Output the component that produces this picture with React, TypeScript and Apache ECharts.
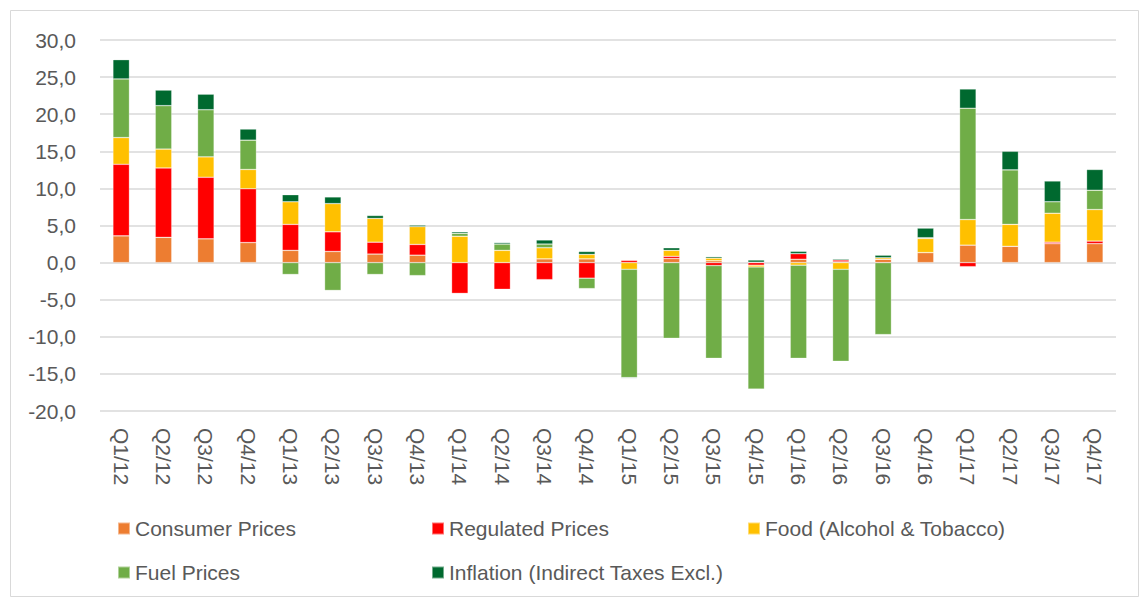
import React, { useEffect, useRef } from "react";
import * as echarts from "echarts";

const categories = [
  "Q1/12", "Q2/12", "Q3/12", "Q4/12",
  "Q1/13", "Q2/13", "Q3/13", "Q4/13",
  "Q1/14", "Q2/14", "Q3/14", "Q4/14",
  "Q1/15", "Q2/15", "Q3/15", "Q4/15",
  "Q1/16", "Q2/16", "Q3/16", "Q4/16",
  "Q1/17", "Q2/17", "Q3/17", "Q4/17",
];

const consumerPrices = [3.6, 3.4, 3.2, 2.7, 1.65, 1.5, 1.15, 1.0, 0, 0, 0.5, 0.5, 0, 0.55, 0.25, 0.05, 0.45, 0.1, 0.45, 1.35, 2.35, 2.2, 2.55, 2.55];
const regulatedPrices = [9.65, 9.35, 8.3, 7.25, 3.5, 2.65, 1.6, 1.45, -4.15, -3.6, -2.3, -2.1, 0.3, 0.3, -0.4, -0.35, 0.75, 0.25, 0, 0, -0.55, 0, 0.2, 0.35];
const foodPrices = [3.6, 2.55, 2.75, 2.6, 3.05, 3.8, 3.2, 2.4, 3.55, 1.65, 1.5, 0.6, -0.9, 0.8, 0.35, -0.25, -0.35, -0.9, 0.2, 1.9, 3.45, 2.95, 3.9, 4.25];
const fuelPrices = [7.9, 5.85, 6.35, 3.95, -1.6, -3.75, -1.6, -1.75, 0.4, 0.85, 0.5, -1.4, -14.6, -10.2, -12.5, -16.45, -12.55, -12.4, -9.7, 0.1, 15.0, 7.35, 1.55, 2.6];
const inflation = [2.6, 2.1, 2.1, 1.5, 0.95, 0.9, 0.4, 0.2, 0.2, 0.2, 0.55, 0.4, -0.1, 0.35, 0.2, 0.3, 0.32, 0.15, 0.35, 1.3, 2.6, 2.5, 2.8, 2.8];

const seriesNames = [
  "Consumer Prices",
  "Regulated Prices",
  "Food (Alcohol & Tobacco)",
  "Fuel Prices",
  "Inflation (Indirect Taxes Excl.)",
];
const seriesData = [consumerPrices, regulatedPrices, foodPrices, fuelPrices, inflation];
const colors = ["#ED7D31", "#FF0000", "#FFC000", "#70AD47", "#00692F"];

const yMin = -20;
const yMax = 30;
const yInterval = 5;

const FONT = "'Liberation Sans', Arial, sans-serif";
const TEXT_COLOR = "#595959";

export default function App() {
  const ref = useRef<HTMLDivElement>(null);

  useEffect(() => {
    if (!ref.current) return;
    const chart = echarts.init(ref.current, undefined, { renderer: "svg" });

    const legendPos = [
      { left: 112, top: 513 },
      { left: 426, top: 513 },
      { left: 742, top: 513 },
      { left: 112, top: 557 },
      { left: 426, top: 557 },
    ];

    const option: any = {
      animation: false,
      backgroundColor: "#ffffff",
      textStyle: { fontFamily: FONT },
      grid: { left: 100, right: 28, top: 40, bottom: 192, containLabel: false },
      legend: seriesNames.map((name, i) => ({
        data: [name],
        left: legendPos[i].left,
        top: legendPos[i].top,
        icon: "rect",
        itemWidth: 12,
        itemHeight: 12,
        selectedMode: false,
        textStyle: { fontSize: 21, color: TEXT_COLOR, fontFamily: FONT },
      })),
      xAxis: {
        type: "category",
        data: categories,
        axisLine: { show: false },
        axisTick: { show: false },
        axisLabel: {
          rotate: -90,
          fontSize: 21,
          color: TEXT_COLOR,
          fontFamily: FONT,
          margin: 17,
          interval: 0,
        },
      },
      yAxis: {
        type: "value",
        min: yMin,
        max: yMax,
        interval: yInterval,
        axisLine: { show: false },
        axisTick: { show: false },
        splitLine: { lineStyle: { color: "#d9d9d9", width: 1.5 } },
        axisLabel: {
          fontSize: 21,
          color: TEXT_COLOR,
          fontFamily: FONT,
          margin: 24,
          formatter: (v: number) => v.toFixed(1).replace(".", ","),
        },
      },
      series: seriesNames.map((name, i) => ({
        name,
        type: "bar",
        stack: "total",
        barWidth: "39%",
        data: seriesData[i],
        itemStyle: {
          color: colors[i],
          borderColor: "rgba(255,255,255,0.45)",
          borderWidth: 0.6,
        },
      })),
      graphic: [
        {
          type: "rect",
          shape: { x: 10.5, y: 10.5, width: 1128, height: 586 },
          style: { fill: "none", stroke: "#d9d9d9", lineWidth: 1 },
          silent: true,
          z: -1,
        },
      ],
    };

    chart.setOption(option);
    return () => chart.dispose();
  }, []);

  return (
    <div
      ref={ref}
      style={{ position: "fixed", left: 0, top: 0, width: 1144, height: 603 }}
    />
  );
}
